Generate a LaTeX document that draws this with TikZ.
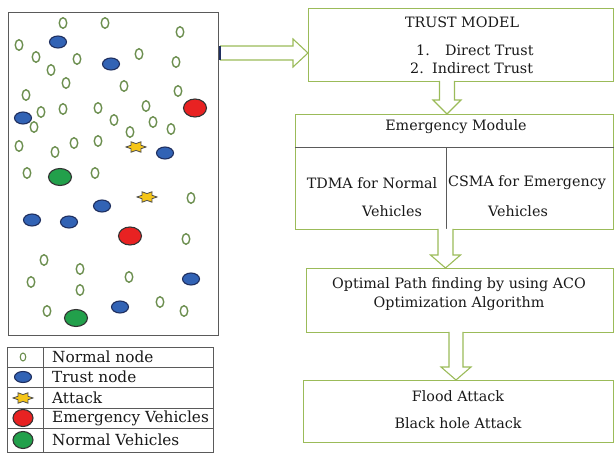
\documentclass[tikz,border=0pt]{standalone}
\usepackage{fontspec}
\setmainfont{DejaVu Serif}
\usetikzlibrary{shapes.geometric,calc}
\definecolor{boxgreen}{HTML}{9BBB59}
\definecolor{nodegreen}{HTML}{6B8E4E}
\definecolor{trustblue}{HTML}{3263B5}
\definecolor{trustedge}{HTML}{1F2F5F}
\definecolor{emred}{HTML}{E82222}
\definecolor{nvgreen}{HTML}{22A04B}
\definecolor{staryellow}{HTML}{F5C518}
\definecolor{framegray}{HTML}{5A5A5A}
\tikzset{
  nn/.style={ellipse,draw=nodegreen,line width=1.4pt,inner sep=0pt,minimum width=7.5pt,minimum height=10.5pt},
  tn/.style={ellipse,draw=trustedge,fill=trustblue,line width=1.1pt,inner sep=0pt,minimum width=17pt,minimum height=12pt},
  ev/.style={ellipse,draw=black!80,fill=emred,line width=1.1pt,inner sep=0pt,minimum width=23pt,minimum height=18pt},
  nv/.style={ellipse,draw=black!80,fill=nvgreen,line width=1.1pt,inner sep=0pt,minimum width=23pt,minimum height=17pt},
  atk/.pic={\draw[draw=black!70,fill=staryellow,line width=0.8pt,xscale=10,yscale=6]
     (0:1) -- (30:0.577) -- (60:1) -- (90:0.577) -- (120:1) -- (150:0.577) -- (180:1)
     -- (210:0.577) -- (240:1) -- (270:0.577) -- (300:1) -- (330:0.577) -- cycle;},
  box/.style={draw=boxgreen,line width=1.1pt,inner sep=0pt,anchor=north west},
  txt/.style={font=\fontsize{14.3}{16}\selectfont,inner sep=0pt,text=black!90},
  lgt/.style={font=\fontsize{15.3}{17}\selectfont,inner sep=0pt,anchor=west,text=black!90},
  arrowline/.style={draw=boxgreen,fill=white,line width=1.1pt,line join=miter},
  divline/.style={draw=framegray,line width=1pt},
}
\newcommand\blkdown[5]{%
  \draw[arrowline] let \p1=(#1), \p2=(#2) in
   (\x1-#3,\y1) -- (\x1-#3,\y2+#5) -- (\x1-#4,\y2+#5) -- (\x1,\y2) --
   (\x1+#4,\y2+#5) -- (\x1+#3,\y2+#5) -- (\x1+#3,\y1);}
\begin{document}
\begin{tikzpicture}[x=1pt,y=-1pt]
\useasboundingbox (0,0) rectangle (614,454);
% field
\node[draw=framegray,line width=1.3pt,inner sep=0pt,minimum width=210pt,minimum height=323pt,anchor=north west] (field) at (8,12) {};
\foreach \x/\y [count=\i] in {63/23,105/23,180/32,19/45,36/57,77/59,139/54,176/62,51/70,66/83,
  124/86,26/95,178/91,41/112,63/109,98/108,146/106,114/120,34/127,153/122,171/129,130/132,
  19/146,55/152,74/143,98/141,27/173,95/173,191/198,186/239,44/260,80/269,31/282,129/277,
  80/290,47/311,160/302,184/311}
  \node[nn] (n\i) at (\x,\y) {};
\foreach \x/\y [count=\i] in {58/42,111/64,23/118,165/153,102/206,32/220,69/222,191/279,120/307}
  \node[tn] (t\i) at (\x,\y) {};
\node[ev] (e1) at (195,108) {};
\node[ev] (e2) at (130,236) {};
\node[nv] (g1) at (60,177) {};
\node[nv] (g2) at (76,318) {};
\pic (s1) at (136,147) {atk};
\pic (s2) at (147,197) {atk};
% legend
\node[draw=framegray,line width=0.9pt,inner sep=0pt,minimum width=206pt,minimum height=105pt,anchor=north west] (leg) at (7,347) {};
\coordinate (lc) at (43,347);
\draw[divline,line width=0.8pt] (lc) -- (lc |- leg.south);
\foreach \yy in {367,387,408,428}
  \draw[divline,line width=0.8pt] (leg.west |- 0,\yy) -- (leg.east |- 0,\yy);
\node[nn,minimum width=5.5pt,minimum height=8pt,line width=1.1pt] (ln) at (23,357) {};
\node[tn,minimum width=17pt,minimum height=11pt] (lt) at (23,377) {};
\pic (ls) at (23,398) {atk};
\node[ev,minimum width=20pt,minimum height=17pt] (le) at (23,418) {};
\node[nv,minimum width=20pt,minimum height=17pt] (lg) at (23,440) {};
\node[lgt] (l1) at (52,357) {Normal node};
\node[lgt] (l2) at (52,377) {Trust node};
\node[lgt] (l3) at (52,398) {Attack};
\node[lgt] (l4) at (52,418) {Emergency Vehicles};
\node[lgt] (l5) at (52,440) {Normal Vehicles};
% right side boxes
\node[box,minimum width=305pt,minimum height=73pt] (trust) at (308,8) {};
\node[txt] (tt) at (462,22) {TRUST MODEL};
\node[txt,anchor=west] (tn1) at (416,50) {1.};
\node[txt,anchor=west] (tl1) at (445,50) {Direct Trust};
\node[txt,anchor=west] (tn2) at (410,68) {2.};
\node[txt,anchor=west] (tl2) at (432,68) {Indirect Trust};
\node[box,minimum width=318pt,minimum height=115pt] (em) at (295,114) {};
\coordinate (emh) at (295,148);
\coordinate (emv) at (446,148);
\draw[divline] (emh) -- (emh -| em.east);
\draw[divline] (emv) -- (emv |- em.south);
\node[txt] (et) at (456,127) {Emergency Module};
\node[txt] (ea1) at (372,183) {TDMA for Normal};
\node[txt] (ea2) at (392,211) {Vehicles};
\node[txt] (eb1) at (527,183) {CSMA for Emergency};
\node[txt] (eb2) at (518,211) {Vehicles};
\node[box,minimum width=307pt,minimum height=64pt] (opt) at (306,268) {};
\node[txt] (o1) at (459,285) {Optimal Path finding by using ACO};
\node[txt] (o2) at (459,304) {Optimization Algorithm};
\node[box,minimum width=310pt,minimum height=62pt] (fl) at (303,380) {};
\node[txt] (f1) at (458,396) {Flood Attack};
\node[txt] (f2) at (458,423) {Black hole Attack};
% block arrows
\coordinate (a0s) at (220,53);
\coordinate (a0e) at (trust.west |- a0s);
\draw[arrowline] let \p1=(a0s), \p2=(a0e) in
  (\x1,\y1+7pt) -- (\x2-15pt,\y1+7pt) -- (\x2-15pt,\y1+14pt) -- (\x2,\y1) --
  (\x2-15pt,\y1-14pt) -- (\x2-15pt,\y1-7pt) -- (\x1,\y1-7pt);
\draw[draw=trustedge,line width=2pt] let \p1=(a0s) in (\x1,\y1+7pt) -- (\x1,\y1-7pt);
\coordinate (a1s) at (447,81);
\coordinate (a1e) at (a1s |- em.north);
\blkdown{a1s}{a1e}{7.5pt}{14pt}{14pt}
\coordinate (a2s) at (445.5,229);
\coordinate (a2e) at (a2s |- opt.north);
\blkdown{a2s}{a2e}{7.5pt}{15pt}{13pt}
\coordinate (a3s) at (456,332);
\coordinate (a3e) at (a3s |- fl.north);
\blkdown{a3s}{a3e}{7pt}{15pt}{13pt}
\end{tikzpicture}
\end{document}
